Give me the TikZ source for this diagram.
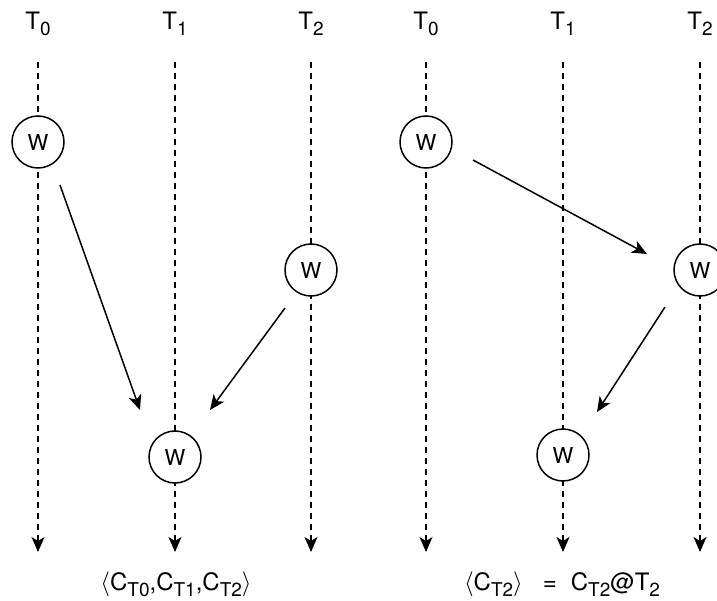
\documentclass[tikz,border=0pt]{standalone}
\usepackage{fontspec}
\setmainfont{TeX Gyre Heros}
\usetikzlibrary{arrows.meta}

% lowered, slightly smaller index text
\newcommand\lowsub[1]{\raisebox{-0.26em}{\fontsize{19}{21}\selectfont #1}}

\tikzset{
  lane/.style={line width=1.5pt, dash pattern=on 6pt off 5pt,
    -{Stealth[length=15pt,width=13pt,inset=4pt]}},
  wnode/.style={circle, draw, line width=1.5pt, fill=white,
    minimum size=52pt, inner sep=0pt, font=\fontsize{22}{24}\selectfont},
  msg/.style={line width=1.5pt, -{Stealth[length=15pt,width=13pt,inset=4pt]}},
  lbl/.style={font=\fontsize{24}{28}\selectfont, inner sep=0pt},
}

\begin{document}
\begin{tikzpicture}[x=1pt,y=-1pt]
\useasboundingbox (0,0) rectangle (717,601);
\clip (0,0) rectangle (717,601);

% thread timelines
\foreach \n/\x in {L0/38,L1/175,L2/311,R0/426,R1/563,R2/700}{
  \coordinate (\n top) at (\x,62);
  \coordinate (\n end) at (\x,552);
  \draw[lane] (\n top) -- (\n end);
}

% thread names
\node[lbl] (tL0) at (38,24) {T\lowsub{0}};
\node[lbl] (tL1) at (175,24) {T\lowsub{1}};
\node[lbl] (tL2) at (311,24) {T\lowsub{2}};
\node[lbl] (tR0) at (426,24) {T\lowsub{0}};
\node[lbl] (tR1) at (563,24) {T\lowsub{1}};
\node[lbl] (tR2) at (700,24) {T\lowsub{2}};

% writes
\node[wnode] (wL0) at (38,142) {W};
\node[wnode] (wL2) at (311,270) {W};
\node[wnode] (wL1) at (175,457) {W};
\node[wnode] (wR0) at (426,142) {W};
\node[wnode] (wR2) at (700,270) {W};
\node[wnode] (wR1) at (563,455) {W};

% propagation arrows
\coordinate (aL0) at (60,185);   \coordinate (bL0) at (140,410);
\coordinate (aL2) at (285,308);  \coordinate (bL2) at (210,410);
\coordinate (aR0) at (473,160);  \coordinate (bR0) at (647,254);
\coordinate (aR2) at (665,307);  \coordinate (bR2) at (597,412);
\draw[msg] (aL0) -- (bL0);
\draw[msg] (aL2) -- (bL2);
\draw[msg] (aR0) -- (bR0);
\draw[msg] (aR2) -- (bR2);

% resulting values
\node[lbl] (sumL) at (176,584)
  {$\langle$C\lowsub{T0},C\lowsub{T1},C\lowsub{T2}$\rangle$};
\node[lbl] (sumR) at (562,584)
  {$\langle$C\lowsub{T2}$\rangle$\hspace{20pt}=\hspace{14pt}C\lowsub{T2}@T\lowsub{2}};
\end{tikzpicture}
\end{document}
